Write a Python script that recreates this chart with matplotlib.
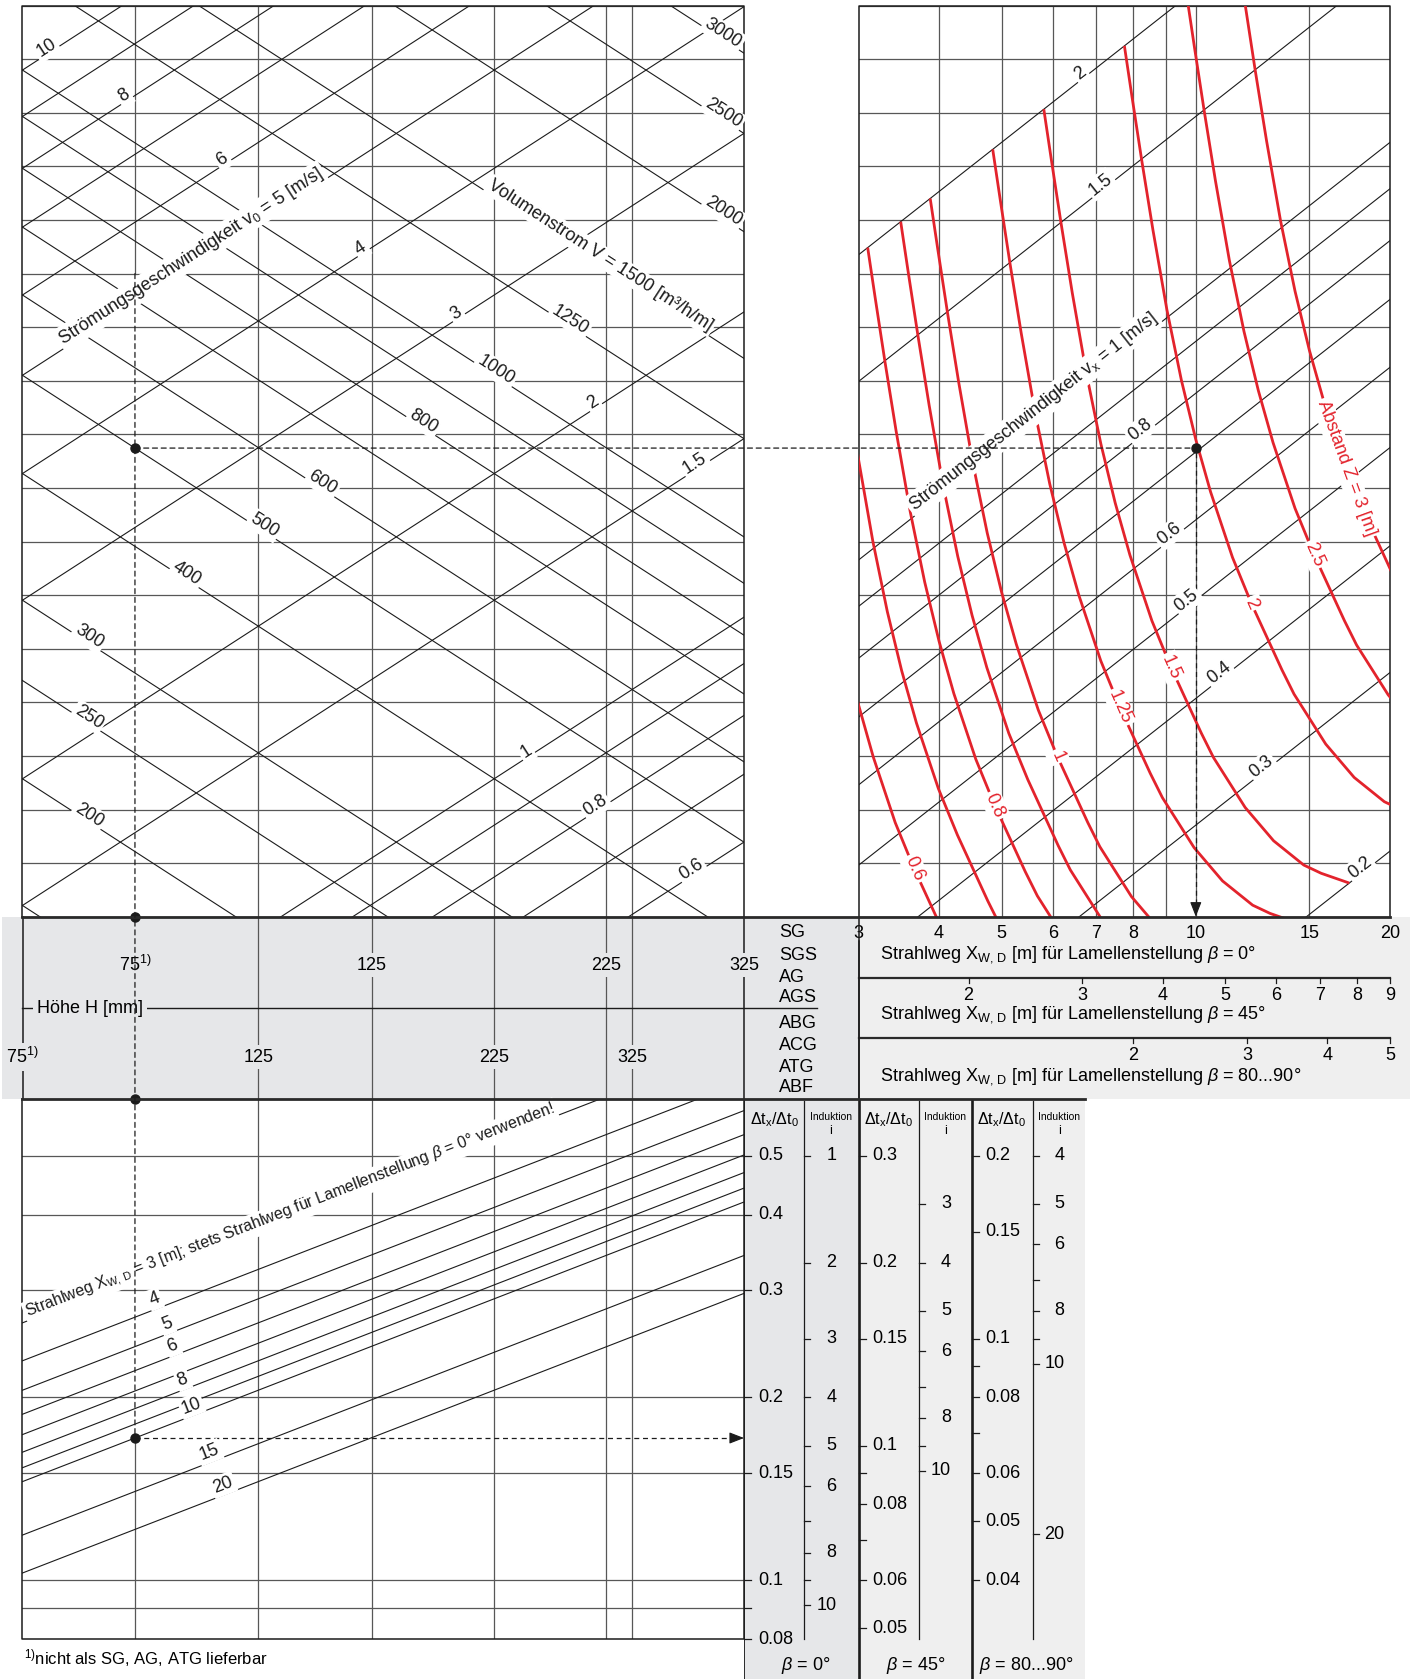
import numpy as np
import matplotlib.pyplot as plt
from matplotlib.patches import Rectangle, ConnectionPatch
from matplotlib.lines import Line2D

plt.rcParams['font.family'] = ['Liberation Sans', 'DejaVu Sans']
plt.rcParams['mathtext.fontset'] = 'custom'
plt.rcParams['mathtext.rm'] = 'Liberation Sans'
plt.rcParams['mathtext.it'] = 'Liberation Sans:italic'
plt.rcParams['mathtext.bf'] = 'Liberation Sans:bold'

# ---------------- werte aus dem nomogramm ----------------
# oben links: Volumenstrom V [m3/h/m] (fallend) und v0 [m/s] (steigend)
V_lines = [150, 200, 250, 300, 400, 500, 600, 700, 800, 900, 1000, 1250, 1500, 2000, 2500, 3000]
v0_lines = [0.6, 0.7, 0.8, 0.9, 1, 1.5, 2, 3, 4, 5, 6, 7, 8, 9, 10]

# Höhe H [mm] und wirksame freie Fläche [m2/m] der beiden Gerätegruppen
H_ticks = [75, 125, 225, 325]
area_top = [0.03866, 0.07758, 0.15433, 0.23153]     # SG, SGS, AG, AGS
area_bottom = [0.02778, 0.05556, 0.11111, 0.16667]  # ABG, ACG, ATG, ABF
models_top = ['SG', 'SGS', 'AG', 'AGS']
models_bottom = ['ABG', 'ACG', 'ATG', 'ABF']

# oben rechts: vx-Linien, Strahlweg X, Abstand Z
vx_lines = [0.2, 0.3, 0.4, 0.5, 0.6, 0.7, 0.8, 0.9, 1, 1.5, 2]
X_ticks = [3, 4, 5, 6, 7, 8, 10, 15, 20]
X_grid = [4, 5, 6, 7, 8, 9, 10, 15]
Z_values = [0.6, 0.7, 0.8, 0.9, 1, 1.25, 1.5, 2, 2.5, 3]
Z_labels = [0.6, 0.8, 1, 1.25, 1.5, 2, 2.5]
xi_curve = [3.875, 3.98, 4.12, 4.29, 4.51, 4.75, 5.0, 5.27, 5.7, 6.1, 6.8, 7.1, 7.95, 8.8, 9.8, 10.43, 11.53]
vx_curve = [2.0, 1.761, 1.499, 1.252, 1.018, 0.845, 0.720, 0.623, 0.516, 0.449, 0.366, 0.339,
            0.286, 0.252, 0.226, 0.215, 0.200]

# Strahlweg-Skalen fuer andere Lamellenstellungen
X45_ticks = [2, 3, 4, 5, 6, 7, 8, 9]
X80_ticks = [2, 3, 4, 5]
X45_to_X0 = 20 / 9
X80_to_X0 = 4.0

# unten links: Temperaturverhaeltnis je Strahlweg
X_lines = [3, 4, 5, 6, 7, 8, 9, 10, 15, 20]
dt_grid = [0.5, 0.4, 0.3, 0.2, 0.15, 0.1, 0.09]

# rechte Skalen dt_x/dt_0 und Induktion i
dt_ticks = {0: [0.5, 0.4, 0.3, 0.2, 0.15, 0.1, 0.08],
            45: [0.3, 0.2, 0.15, 0.1, 0.08, 0.06, 0.05],
            80: [0.2, 0.15, 0.1, 0.08, 0.06, 0.05, 0.04]}
dt_minor = {0: [0.09], 45: [0.09, 0.07], 80: [0.09, 0.07]}
i_ticks = {0: [1, 2, 3, 4, 5, 6, 8, 10], 45: [3, 4, 5, 6, 8, 10], 80: [4, 5, 6, 8, 10, 20]}
i_minor = {0: [7, 9], 45: [7, 9], 80: [7, 9]}
dt_factor = {0: 1.0, 45: 0.6, 80: 0.4}

# Beispiel
A_ex = area_top[0]   # H = 75
V_ex = 500
X_ex = 10

K_V = 3.162   # vx = K_V * v0 * sqrt(A / X)
K_T = 2.757   # dt_x/dt_0 = K_T * sqrt(A / X)

# ---------------- hilfsfunktionen ----------------
W_PX, H_PX = 1415, 1679
fig = plt.figure(figsize=(W_PX / 100, H_PX / 100), dpi=100)

INK = '#1b1b1b'
GRID = '#575757'
RED = '#e3232c'
GRAY_D = '#e6e7e9'
GRAY_L = '#efefef'
FS = 13


def add_ax(x0, y0, x1, y1):
    ax = fig.add_axes([x0 / W_PX, 1 - y1 / H_PX, (x1 - x0) / W_PX, (y1 - y0) / H_PX])
    ax.set_axis_off()
    return ax


def frect(x0, y0, x1, y1, color):
    fig.add_artist(Rectangle((x0 / W_PX, 1 - y1 / H_PX), (x1 - x0) / W_PX, (y1 - y0) / H_PX,
                             transform=fig.transFigure, fc=color, ec='none', zorder=-5))


def fline(xs, ys, **kw):
    fig.add_artist(Line2D(np.asarray(xs) / W_PX, 1 - np.asarray(ys) / H_PX,
                          transform=fig.transFigure, **kw))


def ftext(x, y, s, **kw):
    kw.setdefault('fontsize', FS)
    kw.setdefault('va', 'center')
    fig.text(x / W_PX, 1 - y / H_PX, s, **kw)


def angle(ax, p0, p1):
    a = ax.transData.transform(p0)
    b = ax.transData.transform(p1)
    return np.degrees(np.arctan2(b[1] - a[1], b[0] - a[0]))


def tag(ax, x, y, s, rot, lift=0.0, color=INK, size=FS, fc='white'):
    r = np.radians(rot)
    ax.annotate(s, (x, y), xytext=(-lift * np.sin(r), lift * np.cos(r)), textcoords='offset points',
                rotation=rot, rotation_mode='anchor', ha='center', va='center',
                color=color, fontsize=size, zorder=6, annotation_clip=False,
                bbox=dict(boxstyle='square,pad=0.12', fc=fc, ec='none'))


def hgrid(ax, n=17):
    for f in np.linspace(0, 1, n + 1):
        ax.plot([0, 1], [f, f], transform=ax.transAxes, color=GRID, lw=0.9, zorder=1)


def V_W(V, A):
    return V / (3600 * np.sqrt(A))


def v0_W(v0, A):
    return v0 * np.sqrt(A)


def vx_W(vx, X):
    return vx * np.sqrt(X) / K_V


def dt_of(A, X):
    return K_T * np.sqrt(A / X)


# hintergruende
frect(2, 916.7, 858.5, 1099.4, GRAY_D)
frect(858.5, 916.7, 1410, 1099.4, GRAY_L)
frect(744, 1099.4, 858.5, 1679, GRAY_D)
frect(858.5, 1099.4, 1085, 1679, GRAY_L)

A_min, A_max = area_bottom[0], area_top[-1]
W_min, W_max = 0.2437, 1.929
A_span = np.array([A_min / 3, A_max * 3])
split = 1 - 5 / 17


def A_at(f):
    return A_min * (A_max / A_min) ** f


# ---------------- oben links ----------------
ax_tl = add_ax(22.5, 5.7, 744, 916.7)
ax_tl.set_xscale('log')
ax_tl.set_yscale('log')
ax_tl.set_xlim(A_min, A_max)
ax_tl.set_ylim(W_min, W_max)
hgrid(ax_tl)
for A in area_top[1:-1] + area_bottom[1:]:
    ax_tl.axvline(A, color=GRID, lw=0.9, zorder=1)
ax_tl.plot([A_ex, A_ex], [split, 1], transform=ax_tl.get_xaxis_transform(), color=GRID, lw=0.9, zorder=1)
ax_tl.plot([0, 0, 1, 1], [0, 1, 1, 0], transform=ax_tl.transAxes, color=INK, lw=1.1,
           clip_on=False, zorder=3)
for V in V_lines:
    ax_tl.plot(A_span, V_W(V, A_span), color=INK, lw=0.8, zorder=2)
for v0 in v0_lines:
    ax_tl.plot(A_span, v0_W(v0, A_span), color=INK, lw=0.8, zorder=2)

V_tag_at = {3000: 0.967, 2500: 0.967, 2000: 0.967, 1250: 0.755, 1000: 0.652, 800: 0.552,
            600: 0.412, 500: 0.331, 400: 0.224, 300: 0.088, 250: 0.088, 200: 0.088}
v0_tag_at = {10: 0.037, 8: 0.145, 6: 0.281, 4: 0.473, 3: 0.605, 2: 0.795, 1.5: 0.936,
             1: 0.702, 0.8: 0.798, 0.6: 0.931}
for V, f in V_tag_at.items():
    A = A_at(f)
    rot = angle(ax_tl, (A, V_W(V, A)), (A * 1.05, V_W(V, A * 1.05)))
    tag(ax_tl, A, V_W(V, A), f'{V}', rot, lift=4)
for v0, f in v0_tag_at.items():
    A = A_at(f)
    rot = angle(ax_tl, (A, v0_W(v0, A)), (A * 1.05, v0_W(v0, A * 1.05)))
    tag(ax_tl, A, v0_W(v0, A), f'{v0:g}', rot, lift=4)
A = A_at(0.795)
tag(ax_tl, A, V_W(1500, A), 'Volumenstrom V = 1500 [m³/h/m]',
    angle(ax_tl, (A, V_W(1500, A)), (A * 1.05, V_W(1500, A * 1.05))), lift=6)
A = A_at(0.240)
tag(ax_tl, A, v0_W(5, A), 'Strömungsgeschwindigkeit v$_0$ = 5 [m/s]',
    angle(ax_tl, (A, v0_W(5, A)), (A * 1.05, v0_W(5, A * 1.05))), lift=6)

# ---------------- oben rechts ----------------
ax_tr = add_ax(858.5, 5.7, 1390, 916.7)
ax_tr.set_xscale('log')
ax_tr.set_yscale('log')
ax_tr.set_xlim(3, 20)
ax_tr.set_ylim(W_min, W_max)
hgrid(ax_tr)
for X in X_grid:
    ax_tr.axvline(X, color=GRID, lw=0.9, zorder=1)
ax_tr.plot([0, 0, 1, 1], [0, 1, 1, 0], transform=ax_tr.transAxes, color=INK, lw=1.1,
           clip_on=False, zorder=3)
X_span = np.array([2, 30])
for vx in vx_lines:
    ax_tr.plot(X_span, vx_W(vx, X_span), color=INK, lw=0.8, zorder=2)
xi = np.array(xi_curve)
vc = np.array(vx_curve)
for Z in Z_values:
    ax_tr.plot(xi * Z, vx_W(vc, xi * Z), color=RED, lw=2.0, zorder=3,
               solid_capstyle='butt', solid_joinstyle='round')

vx_tag_at = {2: 6.7, 1.5: 7.2, 0.8: 8.3, 0.6: 9.2, 0.5: 9.8, 0.4: 11.0, 0.3: 12.8, 0.2: 18.2}
for vx, X in vx_tag_at.items():
    rot = angle(ax_tr, (X, vx_W(vx, X)), (X * 1.05, vx_W(vx, X * 1.05)))
    tag(ax_tr, X, vx_W(vx, X), f'{vx:g}', rot, lift=4)
X = 5.7
tag(ax_tr, X, vx_W(1, X), 'Strömungsgeschwindigkeit v$_\\mathrm{x}$ = 1 [m/s]',
    angle(ax_tr, (X, vx_W(1, X)), (X * 1.05, vx_W(1, X * 1.05))), lift=6)

k = 9  # ablesepunkt der roten beschriftung
for Z in Z_labels:
    Xs = xi * Z
    Ws = vx_W(vc, Xs)
    rot = angle(ax_tr, (Xs[k - 1], Ws[k - 1]), (Xs[k + 1], Ws[k + 1]))
    tag(ax_tr, Xs[k], Ws[k], f'{Z:g}', rot, color=RED)
Xs = xi * 3
Ws = vx_W(vc, Xs)
rot = angle(ax_tr, (Xs[k - 2], Ws[k - 2]), (Xs[k], Ws[k]))
tag(ax_tr, Xs[k - 1], Ws[k - 1], 'Abstand Z = 3 [m]', rot, color=RED)

# ---------------- band mitte ----------------
ax_bb = add_ax(22.5, 916.7, 744, 1099.4)
ax_bb.set_xscale('log')
ax_bb.set_xlim(A_min, A_max)
ax_bb.set_ylim(182.7, 0)
for A in area_top[1:] + area_bottom:
    edge = A in (A_min, A_max)
    ax_bb.plot([A, A], [0, 182.7], color=INK if edge else GRID, lw=1.1 if edge else 0.9,
               clip_on=False, zorder=1)
band_box = dict(boxstyle='square,pad=0.2', fc=GRAY_D, ec='none')
for H, A in zip(H_ticks, area_top):
    ax_bb.text(A, 48.3, '75$^{1)}$' if H == 75 else f'{H}', ha='center', va='center',
               fontsize=FS, bbox=band_box, zorder=5)
for H, A in zip(H_ticks, area_bottom):
    ax_bb.text(A, 140.3, '75$^{1)}$' if H == 75 else f'{H}', ha='center', va='center',
               fontsize=FS, bbox=band_box, zorder=5)
fline([22.5, 817], [1008.3, 1008.3], color=INK, lw=1.0, zorder=2)
ftext(90, 1008.3, 'Höhe H [mm]', ha='center', bbox=band_box, zorder=3)
for n, name in enumerate(models_top + models_bottom):
    ftext(779, [933, 955, 977, 998, 1023, 1045, 1067, 1088][n], name, ha='left')

ax_bx = add_ax(858.5, 916.7, 1390, 1099.4)
ax_bx.set_xscale('log')
ax_bx.set_xlim(3, 20)
ax_bx.set_ylim(182.7, 0)
ax_bx.plot([3, 3], [24, 182.7], color=INK, lw=1.1, clip_on=False)
for X in X_ticks:
    ax_bx.text(X, 16.3, f'{X}', ha='center', va='center', fontsize=FS)
for yl, ticks, fac in [(61, X45_ticks, X45_to_X0), (121, X80_ticks, X80_to_X0)]:
    ax_bx.plot([3, 20], [yl, yl], color='#2a2a2a', lw=1.6, clip_on=False)
    for X in ticks:
        ax_bx.plot([X * fac, X * fac], [yl, yl + 5], color=INK, lw=0.9, clip_on=False)
        ax_bx.text(X * fac, yl + 18, f'{X}', ha='center', va='center', fontsize=FS)
ftext(880, 955, 'Strahlweg X$_\\mathrm{W,\\,D}$ [m] für Lamellenstellung $\\beta$ = 0°', ha='left')
ftext(880, 1015, 'Strahlweg X$_\\mathrm{W,\\,D}$ [m] für Lamellenstellung $\\beta$ = 45°', ha='left')
ftext(880, 1076.7, 'Strahlweg X$_\\mathrm{W,\\,D}$ [m] für Lamellenstellung $\\beta$ = 80...90°', ha='left')

# ---------------- unten links ----------------
dt_min, dt_max = 0.08, 0.619
ax_bl = add_ax(22.5, 1099.4, 744, 1639)
ax_bl.set_xscale('log')
ax_bl.set_yscale('log')
ax_bl.set_xlim(A_min, A_max)
ax_bl.set_ylim(dt_min, dt_max)
for d in dt_grid:
    ax_bl.axhline(d, color=GRID, lw=0.9, zorder=1)
for A in area_top[1:-1] + area_bottom[1:]:
    ax_bl.axvline(A, color=GRID, lw=0.9, zorder=1)
dt_ex = dt_of(A_ex, X_ex)
ax_bl.plot([A_ex, A_ex], [dt_min, dt_ex], color=GRID, lw=0.9, zorder=1)
ax_bl.plot([0, 0, 1, 1], [1, 0, 0, 1], transform=ax_bl.transAxes, color=INK, lw=1.1,
           clip_on=False, zorder=3)
for X in X_lines:
    ax_bl.plot(A_span, dt_of(A_span, X), color=INK, lw=0.8, zorder=2)
X_tag_at = {4: 0.188, 5: 0.205, 6: 0.213, 8: 0.227, 10: 0.239, 15: 0.264, 20: 0.283}
for X, f in X_tag_at.items():
    A = A_at(f)
    rot = angle(ax_bl, (A, dt_of(A, X)), (A * 1.05, dt_of(A * 1.05, X)))
    tag(ax_bl, A, dt_of(A, X), f'{X}', rot, lift=7)
A = A_at(0.375)
tag(ax_bl, A, dt_of(A, 3),
    'Strahlweg X$_\\mathrm{W,\\,D}$ = 3 [m]; stets Strahlweg für Lamellenstellung $\\beta$ = 0° verwenden!',
    angle(ax_bl, (A, dt_of(A, 3)), (A * 1.05, dt_of(A * 1.05, 3))), lift=5, size=11.5)

# ---------------- rechte skalen ----------------
ax_col = add_ax(744, 1099.4, 1085, 1679)
ax_col.set_xlim(0, 341)
ax_col.set_yscale('log')
ax_col.set_ylim(0.0688, dt_max)
ax_col.axvline(0, color=INK, lw=1.3)
ax_col.axvline(114.5, color=INK, lw=1.9)
ax_col.axvline(227.7, color=INK, lw=1.9)
cols = [(0, 0.0, 60.3, 62), (45, 114.5, 175.0, 57), (80, 227.7, 288.7, 55)]
for beta, x0, xa, xf in cols:
    f = dt_factor[beta]
    for d in dt_ticks[beta]:
        ax_col.plot([x0, x0 + 7], [d / f, d / f], color=INK, lw=0.9)
        ax_col.text(x0 + 14, d / f, f'{d:g}', ha='left', va='center', fontsize=FS)
    for d in dt_minor[beta]:
        ax_col.plot([x0, x0 + 7], [d / f, d / f], color=INK, lw=0.9)
    ax_col.plot([xa, xa], [dt_min, 0.616], color=INK, lw=0.9)
    for i in i_ticks[beta]:
        y = 1 / (1 + i) / f
        ax_col.plot([xa, xa + 6], [y, y], color=INK, lw=0.9)
        ax_col.text(xa + 32, y, f'{i}', ha='right', va='center', fontsize=FS)
    for i in i_minor[beta]:
        y = 1 / (1 + i) / f
        ax_col.plot([xa, xa + 6], [y, y], color=INK, lw=0.9)
    ftext(744 + x0 + 30, 1119.3, 'Δt$_\\mathrm{x}$/Δt$_\\mathrm{0}$', ha='center', fontsize=11.5)
    ftext(744 + xa + 26.5, 1117, 'Induktion', ha='center', fontsize=7.5)
    ftext(744 + xa + 26.5, 1131, 'i', ha='center', fontsize=9)
    ftext(744 + x0 + xf, 1665, '$\\beta$ = %s°' % ('80...90' if beta == 80 else beta), ha='center')

# durchgehende linien
fline([858.5, 858.5], [916.7, 1099.4], color=INK, lw=1.1, zorder=2)
fline([22.5, 1390], [916.7, 916.7], color='#2a2a2a', lw=2.0, zorder=3)
fline([22.5, 1085], [1099.4, 1099.4], color='#2a2a2a', lw=2.0, zorder=3)

# ---------------- beispiel ----------------
v0_ex = V_ex / (3600 * A_ex)
W_ex = v0_W(v0_ex, A_ex)
dash = dict(color=INK, lw=0.9, linestyle=(0, (4, 3)), zorder=4)
fig.add_artist(ConnectionPatch((A_ex, W_ex), (X_ex, W_ex), coordsA=ax_tl.transData,
                               coordsB=ax_tr.transData, **dash))
fig.add_artist(ConnectionPatch((A_ex, split), (A_ex, dt_ex), coordsA=ax_tl.get_xaxis_transform(),
                               coordsB=ax_bl.transData, **dash))
ax_tr.plot([X_ex, X_ex], [W_min * 1.03, W_ex], color=INK, lw=0.9, linestyle=(0, (4, 3)), zorder=4)
ax_bl.plot([A_ex, A_max / 1.04], [dt_ex, dt_ex], color=INK, lw=0.9, linestyle=(0, (4, 3)), zorder=4)
arrow = dict(arrowstyle='-|>,head_length=0.9,head_width=0.35', color=INK, lw=0.8, shrinkA=0, shrinkB=0)
ax_tr.annotate('', xy=(X_ex, W_min), xytext=(X_ex, W_min * 1.03), arrowprops=arrow, annotation_clip=False)
ax_bl.annotate('', xy=(A_max, dt_ex), xytext=(A_max / 1.04, dt_ex), arrowprops=arrow, annotation_clip=False)
dot = dict(marker='o', ms=6.5, color=INK, clip_on=False, zorder=7)
ax_tl.plot(A_ex, W_ex, **dot)
ax_tr.plot(X_ex, W_ex, **dot)
ax_bb.plot(A_ex, 0, **dot)
ax_bb.plot(A_ex, 182.7, **dot)
ax_bl.plot(A_ex, dt_ex, **dot)

ftext(24, 1657.7, '$^{1)}$nicht als SG, AG, ATG lieferbar', ha='left', fontsize=12)

fig.savefig('out.png', dpi=100)
